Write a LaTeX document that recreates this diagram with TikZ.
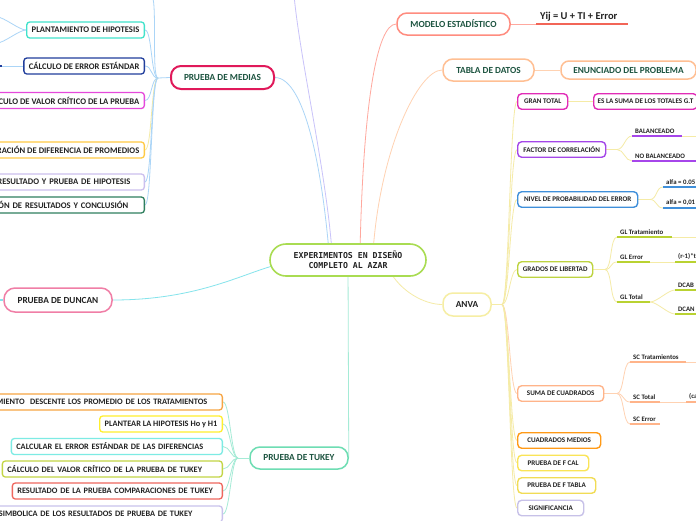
\documentclass[tikz,border=0pt]{standalone}
\usepackage{fontspec}
\setmainfont{Carlito}
\newfontfamily\monof{DejaVu Sans Mono}
\usetikzlibrary{calc,backgrounds}
\definecolor{dkgreen}{HTML}{1D5440}
\definecolor{txt}{HTML}{222222}
\definecolor{cgreen}{HTML}{A9DC52}
\definecolor{crimson}{HTML}{E0195A}
\definecolor{pinkD}{HTML}{F07EA6}
\definecolor{mint}{HTML}{6EDDB3}
\definecolor{salmon}{HTML}{FF8C7F}
\definecolor{peach}{HTML}{FFBF93}
\definecolor{pyel}{HTML}{F6EEA4}
\definecolor{turq}{HTML}{41E2CB}
\definecolor{dblue}{HTML}{213E9C}
\definecolor{magL}{HTML}{E549DB}
\definecolor{gold}{HTML}{FFCA45}
\definecolor{lavL}{HTML}{CCC0EE}
\definecolor{dgreenB}{HTML}{2F7F5E}
\definecolor{orangeT}{HTML}{F7A543}
\definecolor{yelT}{HTML}{FFEF2E}
\definecolor{cyanT}{HTML}{7DEBE4}
\definecolor{oliveT}{HTML}{C3D545}
\definecolor{redT}{HTML}{EF675E}
\definecolor{lavT}{HTML}{C9C2EC}
\definecolor{magA}{HTML}{E12CB7}
\definecolor{purA}{HTML}{A446E8}
\definecolor{blueA}{HTML}{3F8FDA}
\definecolor{ygA}{HTML}{BDD340}
\definecolor{peachA}{HTML}{FFB48A}
\definecolor{orangeA}{HTML}{FF9A17}
\definecolor{yelA}{HTML}{FAE457}
\definecolor{yelA2}{HTML}{F1DC55}
\definecolor{lavA}{HTML}{C7C1E8}
\definecolor{lblue}{HTML}{ABD5F7}
\definecolor{lcyan}{HTML}{85E4EC}
\definecolor{llav}{HTML}{C9C3FA}
\definecolor{lsalm}{HTML}{FFA89E}
\definecolor{lpeach}{HTML}{FFD2B2}
\definecolor{lyel}{HTML}{F5EBA6}
\definecolor{lmint}{HTML}{A5EBD6}
\definecolor{purU}{HTML}{A646EA}
\definecolor{ygU}{HTML}{B9D231}
\definecolor{redU}{HTML}{F26557}
\newcommand\ccR[3]{\draw[#1] (#2) .. controls ($(#2)+(7,0)$) and ($(#3)+(-7,0)$) .. (#3);}
\newcommand\ccL[3]{\draw[#1] (#2) .. controls ($(#2)+(-7,0)$) and ($(#3)+(7,0)$) .. (#3);}
\newcommand\ulnode[6]{\node[ulab] (#1) at (#3,#4) {#6}; \draw[#2,line width=1.6pt] (#1.south west) -- ++(#5,0) coordinate (#1e);}
\begin{document}
\begin{tikzpicture}[x=1pt,y=-1pt,
  cl/.style={line width=0.8pt},
  central/.style={draw=cgreen, line width=1.6pt, rounded corners=16pt, fill=white, minimum width=156pt, minimum height=32pt, align=center, inner sep=0pt, font=\monof\bfseries\fontsize{8.2}{10}\selectfont, text=txt},
  lone/.style={draw, line width=1.5pt, rounded corners=10pt, fill=white, font=\bfseries\fontsize{9.3}{11}\selectfont, text=dkgreen, inner sep=0pt},
  ltwo/.style={draw, line width=1.3pt, rounded corners=3pt, fill=white, font=\bfseries\fontsize{8.6}{10}\selectfont, text=txt, inner xsep=5pt, inner ysep=0pt, minimum height=16pt},
  tfont/.style={font=\bfseries\fontsize{8.3}{10}\selectfont},
  lthree/.style={draw, line width=1.4pt, rounded corners=4pt, fill=white, font=\bfseries\fontsize{7.1}{8}\selectfont, text=txt, inner xsep=4pt, inner ysep=0pt, minimum height=15.5pt},
  ulab/.style={anchor=south west, font=\bfseries\fontsize{6.8}{8}\selectfont, text=txt, inner xsep=3pt, inner ysep=2.5pt}]
\useasboundingbox (0,0) rectangle (696,520);

% central
\node[central] (c) at (348,260) {EXPERIMENTOS EN DISEÑO\\COMPLETO AL AZAR};

% level one
\node[lone, draw=crimson, line width=2pt, minimum width=103pt, minimum height=23pt] (med) at (222.5,77.5) {PRUEBA DE MEDIAS};
\node[lone, draw=pinkD, text=txt, minimum width=108pt, minimum height=24pt, rounded corners=11pt] (dun) at (58,300) {PRUEBA DE DUNCAN};
\node[lone, draw=mint, minimum width=98pt, minimum height=22pt] (tuk) at (299,458) {PRUEBA DE TUKEY};
\node[lone, draw=salmon, minimum width=113pt, minimum height=22pt] (mod) at (453.5,24) {MODELO ESTADÍSTICO};
\node[lone, draw=peach, minimum width=91pt, minimum height=22pt] (tab) at (488.5,70) {TABLA DE DATOS};
\node[lone, draw=peach, minimum width=135pt, minimum height=18pt, rounded corners=8pt] (enu) at (628.5,70) {ENUNCIADO DEL PROBLEMA};
\node[lone, draw=pyel, text=txt, minimum width=48pt, minimum height=23pt] (anva) at (467,304.5) {ANVA};

% medias children
\node[ltwo, draw=turq, anchor=east] (m1) at (145,30) {PLANTAMIENTO DE HIPOTESIS};
\node[ltwo, draw=dblue, anchor=east] (m2) at (145,66) {CÁLCULO DE ERROR ESTÁNDAR};
\node[ltwo, draw=magL, anchor=east] (m3) at (145,100.5) {CÁLCULO DE VALOR CRÍTICO DE LA PRUEBA};
\node[ltwo, draw=gold, anchor=east] (m4) at (145,150) {COMPARACIÓN DE DIFERENCIA DE PROMEDIOS};
\node[ltwo, draw=lavL, anchor=east, text width=200pt, align=right, inner xsep=14pt] (m5) at (145,182) {RESULTADO Y PRUEBA DE HIPOTESIS};
\node[ltwo, draw=dgreenB, anchor=east, text width=200pt, align=right, inner xsep=16pt] (m6) at (145,205) {INTERPRETACIÓN DE RESULTADOS Y CONCLUSIÓN};

% tukey children
\node[ltwo, tfont, draw=orangeT, anchor=east, text width=260pt, align=right, inner xsep=15pt] (t1) at (223,402) {ORDENAMIENTO~ DESCENTE LOS PROMEDIO DE LOS TRATAMIENTOS};
\node[ltwo, tfont, draw=yelT, anchor=east] (t2) at (223,424) {PLANTEAR LA HIPOTESIS Ho y H1};
\node[ltwo, tfont, draw=cyanT, anchor=east, text width=201pt, align=left] (t3) at (223,446.5) {CALCULAR EL ERROR ESTÁNDAR DE LAS DIFERENCIAS};
\node[ltwo, tfont, draw=oliveT, anchor=east, text width=210pt, align=left] (t4) at (223,469) {CÁLCULO DEL VALOR CRÍTICO DE LA PRUEBA DE TUKEY};
\node[ltwo, tfont, draw=redT, anchor=east, text width=200pt, align=left] (t5) at (223,491) {RESULTADO DE LA PRUEBA COMPARACIONES DE TUKEY};
\node[ltwo, tfont, draw=lavT, anchor=east, text width=230pt, align=right, inner xsep=30pt] (t6) at (223,514) {SIMBOLICA DE LOS RESULTADOS DE PRUEBA DE TUKEY};

% anva children
\node[lthree, draw=magA, anchor=west, minimum width=50pt] (gran) at (517,101.5) {GRAN TOTAL};
\node[lthree, draw=magA, anchor=west] (es) at (593,101.5) {ES LA SUMA DE LOS TOTALES G.T};
\node[lthree, draw=purA, anchor=west, minimum width=88pt] (fac) at (517,149.5) {FACTOR DE CORRELACIÓN};
\node[lthree, draw=blueA, anchor=west, minimum width=120pt] (niv) at (517,199.5) {NIVEL DE PROBABILIDAD DEL ERROR};
\node[lthree, draw=ygA, anchor=west, minimum width=75pt] (gra) at (517,269.5) {GRADOS DE LIBERTAD};
\node[lthree, draw=peachA, anchor=west, minimum width=86pt] (suma) at (517,393.5) {SUMA DE CUADRADOS};
\node[lthree, draw=orangeA, anchor=west, minimum width=83pt] (cm) at (517,440.5) {CUADRADOS MEDIOS};
\node[lthree, draw=yelA, anchor=west, minimum width=71pt] (fcal) at (517,463) {PRUEBA DE F CAL};
\node[lthree, draw=yelA2, anchor=west, minimum width=78pt] (ftab) at (517,485.5) {PRUEBA DE F TABLA};
\node[lthree, draw=lavA, anchor=west, minimum width=66pt] (sig) at (517,508) {SIGNIFICANCIA};

% underlined labels
\ulnode{bal}{purU}{632}{136}{50}{BALANCEADO}
\ulnode{nob}{purU}{632}{161}{70}{NO BALANCEADO}
\ulnode{alu}{blueA}{663}{187}{40}{alfa = 0.05}
\ulnode{ald}{blueA}{663}{208}{40}{alfa = 0,01}
\ulnode{glt}{ygU}{617}{237}{55}{GL Tratamiento}
\ulnode{gle}{ygU}{617}{262}{33}{GL Error}
\ulnode{rt}{ygU}{675}{262}{30}{(r-1)*t}
\ulnode{glo}{ygU}{617}{302}{33}{GL Total}
\ulnode{dcab}{ygU}{675}{290}{30}{DCAB}
\ulnode{dcan}{ygU}{675}{314}{30}{DCAN}
\ulnode{sct}{peachA}{630}{362}{56}{SC Tratamientos}
\ulnode{sco}{peachA}{630}{402}{30}{SC Total}
\ulnode{ca}{peachA}{686}{402}{20}{(ca}
\ulnode{sce}{peachA}{630}{424}{30}{SC Error}
\node[ulab, font=\bfseries\fontsize{10.5}{12}\selectfont, inner xsep=4pt, inner ysep=3pt] (yij) at (536,24) {Yij = U + TI + Error};
\draw[redU, line width=1.6pt] (yij.south west) -- ++(92,0);

\begin{pgfonlayer}{background}
\fill[white] (0,0) rectangle (696,520);
% from central
\draw[cl, llav] (294,-5) .. controls (300,60) and (326,170) .. (332,252);
\draw[cl, lblue] (med.east) .. controls (305,78) and (322,170) .. (329,252);
\draw[cl, lsalm] (mod.west) .. controls (376,24) and (363,110) .. (360,252);
\draw[cl, lpeach] (tab.west) .. controls (418,70) and (380,150) .. (373,252);
\draw[cl, lyel] (anva.west) .. controls (425,304.5) and (400,292) .. (388,268);
\draw[cl, lcyan] (dun.east) .. controls (200,300) and (245,272) .. (280,264);
\draw[cl, lmint] (348,262) -- (tuk.east);
% medias
\coordinate (jm) at (158,78);
\draw[cl, lblue] (med.west) -- (jm);
\ccL{cl,lblue}{jm}{151,-5}
\ccL{cl,lblue}{jm}{m1.east}
\ccL{cl,lblue}{jm}{m2.east}
\ccL{cl,lblue}{jm}{m3.east}
\ccL{cl,lyel}{jm}{m4.east}
\ccL{cl,lblue}{jm}{m5.east}
\ccL{cl,lblue}{jm}{m6.east}
\ccL{cl,lblue}{m1.west}{-3,17}
\ccL{cl,lblue}{m1.west}{-3,43}
\draw[cl, lblue] (m2.west) -- (-5,66);
\draw[dblue, line width=1.5pt] (-5,66) -- (2,66);
\draw[cl, lcyan] (dun.west) -- (-5,300);
\draw[lcyan, line width=1.3pt] (-5,300) -- (3,300);
% tukey
\coordinate (jt) at (238,458);
\draw[cl, lmint] (tuk.west) -- (jt);
\ccL{cl,lmint}{jt}{t1.east}
\ccL{cl,lmint}{jt}{t2.east}
\ccL{cl,lmint}{jt}{t3.east}
\ccL{cl,lmint}{jt}{t4.east}
\ccL{cl,lmint}{jt}{t5.east}
\ccL{cl,lmint}{jt}{t6.east}
% anva
\coordinate (ja) at (502,304.5);
\draw[cl, lyel] (anva.east) -- (ja);
\ccR{cl,lyel}{ja}{gran.west}
\ccR{cl,lyel}{ja}{fac.west}
\ccR{cl,lyel}{ja}{niv.west}
\ccR{cl,lyel}{ja}{gra.west}
\ccR{cl,lpeach}{ja}{suma.west}
\ccR{cl,lyel}{ja}{cm.west}
\ccR{cl,lyel}{ja}{fcal.west}
\ccR{cl,lyel}{ja}{ftab.west}
\ccR{cl,lyel}{ja}{sig.west}
\draw[cl, lyel] (gran.east) -- (es.west);
\coordinate (jf) at (617,149.5);
\draw[cl, lyel] (fac.east) -- (jf);
\ccR{cl,lyel}{jf}{bal.south west}
\ccR{cl,lyel}{jf}{nob.south west}
\draw[cl, lyel] (bale) -- (705,136);
\coordinate (jn) at (650,199.5);
\draw[cl, lyel] (niv.east) -- (jn);
\ccR{cl,lyel}{jn}{alu.south west}
\ccR{cl,lyel}{jn}{ald.south west}
\coordinate (jg) at (605,269.5);
\draw[cl, lyel] (gra.east) -- (jg);
\ccR{cl,lyel}{jg}{glt.south west}
\ccR{cl,lyel}{jg}{gle.south west}
\ccR{cl,lyel}{jg}{glo.south west}
\draw[cl, lyel] (glte) -- (705,237);
\draw[cl, lyel] (glee) -- (rt.south west);
\ccR{cl,lyel}{gloe}{dcab.south west}
\ccR{cl,lyel}{gloe}{dcan.south west}
\coordinate (js) at (617,393.5);
\draw[cl, lpeach] (suma.east) -- (js);
\ccR{cl,lpeach}{js}{sct.south west}
\ccR{cl,lpeach}{js}{sco.south west}
\ccR{cl,lpeach}{js}{sce.south west}
\draw[cl, lpeach] (scte) -- (705,362);
\draw[cl, lpeach] (scoe) -- (ca.south west);
\draw[cl, lsalm] (mod.east) -- (yij.south west);
\draw[cl, lpeach] (tab.east) -- (enu.west);
\end{pgfonlayer}
\end{tikzpicture}
\end{document}
